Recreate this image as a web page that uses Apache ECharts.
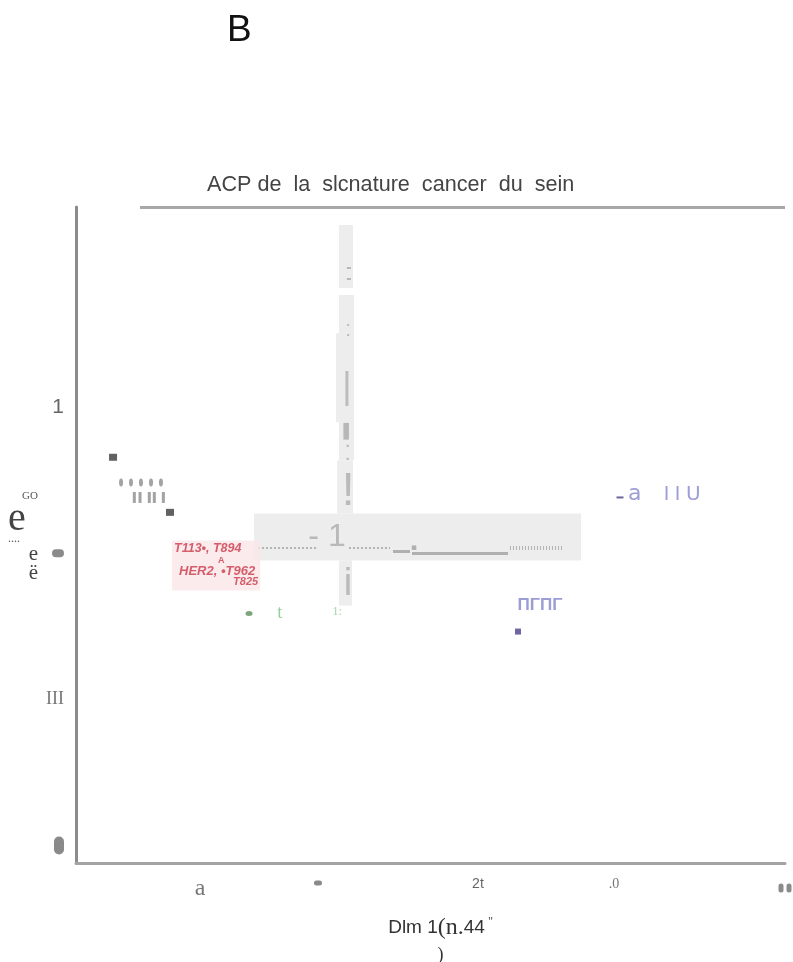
<!DOCTYPE html>
<html><head><meta charset="utf-8">
<script src="https://cdn.jsdelivr.net/npm/echarts@6/dist/echarts.min.js"></script>
<style>html,body{margin:0;padding:0;background:#fff}#c{width:793px;height:962px}</style>
</head><body><div id="c"></div>
<script>
// ---- axis ranges and ticks ----
const xMin = -3.1, xMax = 3.1, yMin = -2.12, yMax = 2.37;
const xTickValues = [-2.016, -0.984, 0.415, 1.605, 3.1];
const xTickLabels = ['a', '•', '2t', '.0', '••'];
const yTickValues = [1, 0, -1, -2];
const yTickLabels = ['1', '•', 'III', '•'];

// ---- data points ----
const darkX = [-2.776, -2.278];
const darkY = [0.657, 0.28];
const ovalX = [-2.706, -2.619, -2.532, -2.444, -2.357];
const ovalY = [0.485, 0.485, 0.485, 0.485, 0.485];
const barX = [-2.590, -2.540, -2.459, -2.415, -2.336];
const barY = [0.382, 0.382, 0.382, 0.382, 0.382];
const greenX = [-1.587];
const greenY = [-0.413];
const purpleDashX = [1.657];
const purpleDashY = [0.382];
const purpleSqX = [0.765];
const purpleSqY = [-0.536];

// red annotation box
const redX = [-2.26];
const redY = [-0.084];
const redLines = ['T113•, T894', 'A', 'HER2, •T962', 'T825'];

// free text labels
const noteX = [-1.316, -0.817, 2.042, 0.958, -0.905];
const noteY = [-0.406, -0.399, 0.403, -0.358, 0.108];
const noteText = ['t', '1:', 'a IIU', 'ΠΓΠΓ', '- 1'];

// glyphs on the vertical reference band
const glyphX = [-0.713, -0.721, -0.730, -0.713, -0.721, -0.721, -0.721, -0.144];
const glyphY = [1.918, 1.527, 1.129, 0.828, 0.684, 0.417, -0.215, 0.040];
const glyphText = ['-\n-', '•\n•', '|', '▌', '·\n·', '!', 'i', '▪'];

// grey bands [x1, y1, x2, y2]
const bandX1 = [-1.543, -0.800, -0.800, -0.826, -0.817, -0.800];
const bandY1 = [0.273, 2.247, 1.767, 1.506, 0.636, -0.049];
const bandX2 = [1.316, -0.678, -0.669, -0.700, -0.678, -0.686];
const bandY2 = [-0.049, 1.815, 0.636, 0.896, 0.273, -0.358];

// reference line pieces
const dotX1 = [-1.508, -0.713, 0.695];
const dotX2 = [-0.984, -0.354, 1.159];
const dotY = [0.040, 0.040, 0.040];
const solidX1 = [-0.328, -0.162];
const solidX2 = [-0.179, 0.678];
const solidY = [0.012, 0.0];

// frame pieces
const frameTopX1 = -2.54;
const frameRightYBottom = -2.195;

// ---- styles (kept separate from data) ----
const SERIF = 'Liberation Serif';
const SANS = 'Liberation Sans';
const xTickStyleKeys = ['a', 'b', 'c', 'd', 'e'];
const yTickStyleKeys = ['one', 'h', 'iii', 'v'];
const noteStyles = [
  {fontFamily: SERIF, fontSize: 19, color: '#80c480'},
  {fontFamily: SERIF, fontSize: 12, color: '#8cc98c'},
  {align: 'left', offset: [-36, 0],
   formatter: '{pa|a}{pb|    I I }{pc|U}',
   rich: {
     pa: {fontFamily: 'DejaVu Sans', fontSize: 22, color: '#8686cc'},
     pb: {fontFamily: SANS, fontSize: 20, color: '#8686cc'},
     pc: {fontFamily: 'DejaVu Sans', fontSize: 20, color: '#8686cc'}
   }},
  {fontFamily: SANS, fontSize: 17, fontWeight: 'bold', color: '#8484cc'},
  {fontFamily: SANS, fontSize: 32, color: '#ababab'}
];
const glyphStyles = [
  {fontFamily: SANS, fontSize: 16, lineHeight: 11, fontWeight: 'bold', color: '#a9a9a9'},
  {fontFamily: SANS, fontSize: 8, lineHeight: 10, color: '#a9a9a9'},
  {fontFamily: SANS, fontSize: 36, color: '#b0b0b0'},
  {fontFamily: 'DejaVu Sans', fontSize: 14, color: '#a9a9a9'},
  {fontFamily: SANS, fontSize: 14, lineHeight: 13, fontWeight: 'bold', color: '#a9a9a9'},
  {fontFamily: SANS, fontSize: 46, color: '#acacac'},
  {fontFamily: SANS, fontSize: 38, color: '#acacac'},
  {fontFamily: 'DejaVu Sans', fontSize: 9, color: '#a0a0a0'}
];

function nearestIndex(arr, v) {
  let b = 0;
  for (let i = 1; i < arr.length; i++) if (Math.abs(arr[i] - v) < Math.abs(arr[b] - v)) b = i;
  return b;
}

const chart = echarts.init(document.getElementById('c'), null, {renderer: 'canvas'});

const option = {
  backgroundColor: '#ffffff',
  animation: false,
  title: [
    {text: 'B', left: 227, top: 12, padding: 0,
     textStyle: {fontFamily: SANS, fontSize: 37, fontWeight: 'normal', color: '#111'}},
    {text: 'ACP de  la  slcnature  cancer  du  sein', left: 207, top: 174, padding: 0,
     textStyle: {fontFamily: SANS, fontSize: 21.6, fontWeight: 'normal', color: '#444'}}
  ],
  grid: {left: 76, top: 207, width: 709, height: 656, containLabel: false, outerBoundsMode: 'none'},
  xAxis: {
    type: 'value', min: xMin, max: xMax,
    axisLine: {show: true, onZero: false, lineStyle: {color: '#a3a3a3', width: 3}},
    axisTick: {show: false},
    splitLine: {show: false},
    axisLabel: {
      customValues: xTickValues, margin: 14,
      formatter: function (v) {
        const i = nearestIndex(xTickValues, v);
        if (i === 4) return '{e| }{g| }{e| }';
        return '{' + xTickStyleKeys[i] + '|' + xTickLabels[i] + '}';
      },
      rich: {
        a: {fontFamily: SERIF, fontSize: 24, color: '#777'},
        b: {width: 8, height: 5, lineHeight: 12, backgroundColor: '#8a8a8a', borderRadius: 3, fontSize: 4, color: 'rgba(0,0,0,0)'},
        c: {fontFamily: SANS, fontSize: 14, color: '#666'},
        d: {fontFamily: SERIF, fontSize: 14, color: '#777'},
        e: {width: 5, height: 9, lineHeight: 22, backgroundColor: '#8a8a8a', borderRadius: 3, fontSize: 4, color: 'rgba(0,0,0,0)'},
        g: {width: 3, height: 9, lineHeight: 22, fontSize: 4}
      }
    },
    name: '{s|Dlm 1}{t|(n.}{s|44}{q| \'\'}\n{p|)}',
    nameLocation: 'middle', nameGap: 52,
    nameTextStyle: {
      padding: [0, 0, 0, 20],
      rich: {
        s: {fontFamily: SANS, fontSize: 19, color: '#333', lineHeight: 26},
        t: {fontFamily: SERIF, fontSize: 24, color: '#333', lineHeight: 26},
        q: {fontFamily: SERIF, fontSize: 13, color: '#555', lineHeight: 26, verticalAlign: 'top'},
        p: {fontFamily: SERIF, fontSize: 18, color: '#333', lineHeight: 28}
      }
    }
  },
  yAxis: {
    type: 'value', min: yMin, max: yMax,
    axisLine: {show: true, onZero: false, lineStyle: {color: '#8c8c8c', width: 3}},
    axisTick: {show: false},
    splitLine: {show: false},
    axisLabel: {
      customValues: yTickValues, margin: 12,
      formatter: function (v) {
        const i = nearestIndex(yTickValues, v);
        return '{' + yTickStyleKeys[i] + '|' + yTickLabels[i] + '}';
      },
      rich: {
        one: {fontFamily: SANS, fontSize: 21, color: '#666'},
        h: {width: 12, height: 8, backgroundColor: '#8a8a8a', borderRadius: 5, fontSize: 4, color: 'rgba(0,0,0,0)'},
        iii: {fontFamily: SERIF, fontSize: 18, color: '#777'},
        v: {width: 10, height: 18, backgroundColor: '#8a8a8a', borderRadius: 5, fontSize: 4, color: 'rgba(0,0,0,0)'}
      }
    },
    name: '{a|GO}\n{b|e}\n{c|....}\n{d|e}\n{d|ë}',
    nameLocation: 'middle', nameRotate: 0, nameGap: 38,
    nameTextStyle: {
      rich: {
        a: {fontFamily: SERIF, fontSize: 11, color: '#555', align: 'right', width: 30, lineHeight: 18},
        b: {fontFamily: SERIF, fontSize: 40, color: '#444', align: 'left', width: 30, lineHeight: 28},
        c: {fontFamily: SERIF, fontSize: 12, color: '#555', align: 'left', width: 30, lineHeight: 12},
        d: {fontFamily: SERIF, fontSize: 21, color: '#444', align: 'right', width: 30, lineHeight: 19}
      }
    }
  },
  series: [
    {
      name: 'bands', type: 'scatter', data: [], z: 1, silent: true,
      markArea: {
        silent: true,
        itemStyle: {color: '#ecedec'},
        label: {show: false},
        data: bandX1.map((x, i) => [{coord: [x, bandY1[i]]}, {coord: [bandX2[i], bandY2[i]]}])
      }
    },
    {
      name: 'refLines', type: 'line', data: [], z: 2, silent: true,
      markLine: {
        silent: true, symbol: ['none', 'none'], label: {show: false},
        data: [].concat(
          dotX1.map((x, i) => [
            {coord: [x, dotY[i]], lineStyle: {color: '#b3b3b3', width: i === 2 ? 4 : 2, type: i === 2 ? [1, 2] : [2, 2]}},
            {coord: [dotX2[i], dotY[i]]}
          ]),
          solidX1.map((x, i) => [
            {coord: [x, solidY[i]], lineStyle: {color: '#b0b0b0', width: 3, type: 'solid'}},
            {coord: [solidX2[i], solidY[i]]}
          ])
        )
      }
    },
    {
      name: 'frame', type: 'line', data: [], clip: false, silent: true, z: 3,
      markLine: {
        silent: true, symbol: ['none', 'none'], label: {show: false},
        lineStyle: {color: '#a8a8a8', width: 3, type: 'solid'},
        data: [
          [{coord: [frameTopX1, yMax]}, {coord: [xMax, yMax]}],
          [{coord: [xMax, yMax]}, {coord: [xMax, frameRightYBottom]}]
        ]
      }
    },
    {
      name: 'dark', type: 'scatter', symbol: 'rect', symbolSize: [8, 7], z: 5,
      itemStyle: {color: '#3a3a3a'},
      data: darkX.map((x, i) => [x, darkY[i]])
    },
    {
      name: 'ovals', type: 'scatter', symbol: 'circle', symbolSize: [4, 8], z: 5,
      itemStyle: {color: '#8c8c8c'},
      data: ovalX.map((x, i) => [x, ovalY[i]])
    },
    {
      name: 'bars', type: 'scatter', symbol: 'rect', symbolSize: [3, 11], z: 5,
      itemStyle: {color: '#8c8c8c'},
      data: barX.map((x, i) => [x, barY[i]])
    },
    {
      name: 'green', type: 'scatter', symbol: 'circle', symbolSize: [7, 5], z: 5,
      itemStyle: {color: '#5d8f5d'},
      data: greenX.map((x, i) => [x, greenY[i]])
    },
    {
      name: 'purpleDash', type: 'scatter', symbol: 'rect', symbolSize: [7, 2], z: 5,
      itemStyle: {color: '#4a3c8c'},
      data: purpleDashX.map((x, i) => [x, purpleDashY[i]])
    },
    {
      name: 'purpleSq', type: 'scatter', symbol: 'rect', symbolSize: [6, 6], z: 5,
      itemStyle: {color: '#4a3f8a'},
      data: purpleSqX.map((x, i) => [x, purpleSqY[i]])
    },
    {
      name: 'redBox', type: 'scatter', symbolSize: 0, z: 6, clip: false,
      data: redX.map((x, i) => [x, redY[i]]),
      label: {
        show: true, position: 'inside', align: 'left', verticalAlign: 'middle',
        backgroundColor: '#fae6e8', padding: [3, 2, 3, 2],
        formatter: function () {
          return '{r|' + redLines[0] + '}\n{s|' + redLines[1] + '}\n{r2|' + redLines[2] + '}\n{t|' + redLines[3] + '}';
        },
        rich: {
          r: {fontFamily: SANS, fontSize: 12.5, fontStyle: 'italic', fontWeight: 'bold', color: '#cc3a48', lineHeight: 11},
          s: {fontFamily: SANS, fontSize: 9, fontWeight: 'bold', color: '#cc3a48', lineHeight: 11, padding: [0, 0, 0, 44]},
          r2: {fontFamily: SANS, fontSize: 13, fontStyle: 'italic', fontWeight: 'bold', color: '#cc3a48', lineHeight: 11, padding: [0, 0, 0, 5]},
          t: {fontFamily: SANS, fontSize: 11, fontStyle: 'italic', fontWeight: 'bold', color: '#cc3a48', lineHeight: 11, padding: [0, 0, 0, 59]}
        }
      }
    },
    {
      name: 'notes', type: 'scatter', symbolSize: 0, z: 6, clip: false,
      data: noteX.map((x, i) => ({
        value: [x, noteY[i]], name: noteText[i],
        label: Object.assign({show: true, position: 'inside', formatter: '{b}'}, noteStyles[i])
      }))
    },
    {
      name: 'glyphs', type: 'scatter', symbolSize: 0, z: 6, clip: false,
      data: glyphX.map((x, i) => ({
        value: [x, glyphY[i]], name: glyphText[i],
        label: Object.assign({show: true, position: 'inside', formatter: '{b}'}, glyphStyles[i])
      }))
    }
  ]
};
chart.setOption(option);
</script>
</body></html>
